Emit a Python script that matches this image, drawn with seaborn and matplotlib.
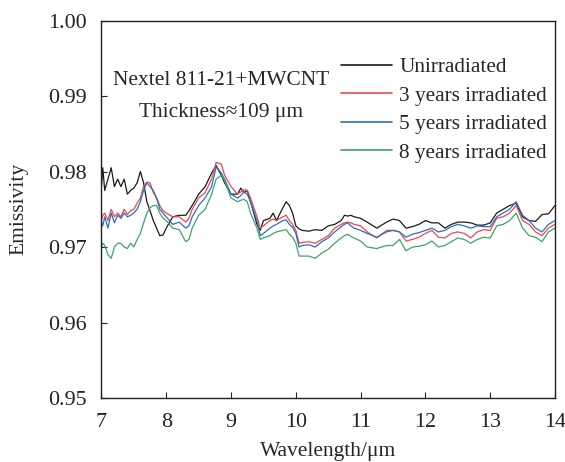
import matplotlib
matplotlib.use("Agg")
import matplotlib.pyplot as plt
import seaborn as sns
import pandas as pd

wavelength = [7.0, 7.02, 7.05, 7.1, 7.15, 7.2, 7.25, 7.3, 7.35, 7.4, 7.45, 7.5, 7.55, 7.6, 7.65, 7.7, 7.75, 7.8, 7.85, 7.9,
              7.95, 8.0, 8.1, 8.2, 8.3, 8.35, 8.4, 8.5, 8.6, 8.7, 8.77, 8.85, 8.9, 9.0, 9.1, 9.15, 9.2, 9.25, 9.3, 9.4,
              9.45, 9.5, 9.6, 9.65, 9.7, 9.8, 9.85, 9.9, 9.95, 10.0, 10.05, 10.1, 10.2, 10.3, 10.4, 10.5, 10.6, 10.7, 10.75, 10.8,
              10.85, 10.9, 11.0, 11.1, 11.25, 11.4, 11.5, 11.6, 11.7, 11.8, 11.9, 12.0, 12.1, 12.2, 12.3, 12.4, 12.5, 12.6, 12.7, 12.8,
              12.9, 13.0, 13.1, 13.2, 13.3, 13.4, 13.5, 13.6, 13.7, 13.8, 13.9, 14.0]

unirradiated = [.9780, .9805, .9775, .9790, .9805, .9780, .9790, .9780, .9790, .9770, .9775, .9778, .9785, .9800, .9785, .9760, .9748, .9735, .9725, .9715,
                .9716, .9725, .9740, .9742, .9742, .9748, .9755, .9770, .9780, .9798, .9808, .9795, .9785, .9770, .9770, .9778, .9772, .9775, .9760, .9730,
                .9722, .9735, .9738, .9745, .9735, .9752, .9760, .9755, .9745, .9728, .9724, .9722, .9721, .9723, .9722, .9728, .9730, .9735, .9742, .9741,
                .9742, .9740, .9738, .9733, .9725, .9733, .9737, .9735, .9725, .9727, .9730, .9735, .9732, .9732, .9725, .9730, .9733, .9733, .9732, .9729,
                .9729, .9732, .9745, .9750, .9755, .9758, .9740, .9735, .9734, .9743, .9744, .9755]

years3 = [.9735, .9742, .9745, .9735, .9750, .9740, .9745, .9740, .9750, .9743, .9748, .9750, .9758, .9765, .9780, .9786, .9785, .9772, .9765, .9755,
          .9748, .9745, .9740, .9740, .9733, .9738, .9750, .9765, .9772, .9790, .9812, .9810, .9795, .9780, .9770, .9773, .9776, .9775, .9765, .9740,
          .9725, .9728, .9735, .9737, .9735, .9740, .9742, .9735, .9730, .9722, .9705, .9706, .9707, .9705, .9710, .9715, .9725, .9730, .9732, .9733,
          .9732, .9730, .9728, .9720, .9712, .9722, .9722, .9720, .9708, .9710, .9713, .9718, .9722, .9713, .9712, .9718, .9720, .9718, .9712, .9720,
          .9723, .9722, .9738, .9740, .9745, .9755, .9735, .9730, .9720, .9715, .9725, .9730]

years5 = [.9733, .9728, .9740, .9725, .9745, .9732, .9742, .9738, .9745, .9740, .9742, .9745, .9750, .9760, .9775, .9785, .9780, .9775, .9765, .9750,
          .9745, .9740, .9730, .9733, .9725, .9728, .9740, .9755, .9765, .9780, .9806, .9798, .9790, .9770, .9765, .9768, .9773, .9770, .9760, .9735,
          .9715, .9718, .9725, .9728, .9730, .9735, .9736, .9730, .9726, .9718, .9700, .9702, .9703, .9700, .9707, .9712, .9720, .9727, .9730, .9732,
          .9728, .9725, .9722, .9718, .9713, .9720, .9722, .9720, .9713, .9717, .9719, .9722, .9725, .9720, .9722, .9727, .9730, .9728, .9725, .9728,
          .9727, .9727, .9740, .9745, .9750, .9760, .9742, .9735, .9725, .9720, .9730, .9735]

years8 = [.9700, .9705, .9702, .9690, .9685, .9700, .9705, .9705, .9700, .9698, .9705, .9700, .9710, .9718, .9732, .9745, .9752, .9755, .9755, .9745,
          .9738, .9735, .9725, .9723, .9707, .9710, .9725, .9742, .9750, .9770, .9790, .9795, .9788, .9765, .9760, .9762, .9763, .9760, .9745, .9725,
          .9710, .9712, .9715, .9718, .9720, .9722, .9723, .9717, .9713, .9705, .9688, .9688, .9688, .9685, .9692, .9697, .9705, .9712, .9715, .9717,
          .9714, .9712, .9708, .9700, .9698, .9702, .9702, .9710, .9695, .9700, .9701, .9703, .9708, .9700, .9702, .9707, .9712, .9710, .9705, .9710,
          .9713, .9712, .9728, .9730, .9735, .9745, .9725, .9715, .9713, .9707, .9720, .9725]

series_names = ["Unirradiated", "3 years irradiated", "5 years irradiated", "8 years irradiated"]
series_values = [unirradiated, years3, years5, years8]
colors = ["#1a1a1a", "#f0474a", "#2f6cc4", "#3aa66a"]

x_ticks = [7, 8, 9, 10, 11, 12, 13, 14]
y_ticks = [0.95, 0.96, 0.97, 0.98, 0.99, 1.00]
y_tick_labels = ["0.95", "0.96", "0.97", "0.98", "0.99", "1.00"]

frames = []
for name, vals in zip(series_names, series_values):
    frames.append(pd.DataFrame({"Wavelength": wavelength, "Emissivity": vals, "Series": name}))
df = pd.concat(frames, ignore_index=True)

sns.set_style("ticks")
plt.rcParams["font.family"] = ["Liberation Serif", "DejaVu Serif"]

fig = plt.figure(figsize=(5.65, 4.62), dpi=100)
ax = fig.add_axes([0.1796, 0.1385, 0.8027, 0.8171])

sns.lineplot(data=df, x="Wavelength", y="Emissivity", hue="Series", hue_order=series_names,
             palette=colors, linewidth=0.9, ax=ax, sort=False)

ax.set_xlim(7, 14)
ax.set_ylim(0.95, 1.00)
ax.set_xticks(x_ticks)
ax.set_yticks(y_ticks)
ax.set_yticklabels(y_tick_labels)
ax.tick_params(axis="both", direction="in", length=4, width=0.8, labelsize=15.8, colors="#222222")
ax.tick_params(axis="x", pad=11)
ax.tick_params(axis="y", pad=10.5)
for s in ax.spines.values():
    s.set_visible(True)
    s.set_linewidth(1.0)
    s.set_color("#222222")

ax.set_xlabel("Wavelength/\u03bcm", fontsize=15.5, labelpad=7)
ax.set_ylabel("Emissivity", fontsize=15.5, labelpad=14)

ax.text(0.264, (398 - 80) / 377.5, "Nextel 811-21+MWCNT", transform=ax.transAxes,
        ha="center", va="center", fontsize=15.4)
ax.text(0.264, (398 - 112) / 377.5, "Thickness\u2248109 \u03bcm", transform=ax.transAxes,
        ha="center", va="center", fontsize=15.4)

leg = ax.legend(loc="upper right", bbox_to_anchor=(0.983, 0.902), frameon=False, fontsize=15.3,
                handlelength=2.4, handletextpad=0.33, labelspacing=0.4, borderaxespad=0, borderpad=0)
for line in leg.get_lines():
    line.set_linewidth(1.2)

fig.savefig("out.png", dpi=100)
